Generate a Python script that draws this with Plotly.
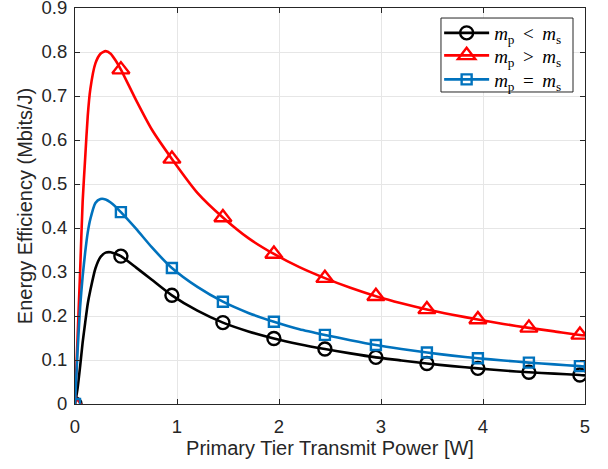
import plotly.graph_objects as go

# ---- data ----
x_line = [0, 0.025, 0.05, 0.075, 0.1, 0.125, 0.15, 0.2, 0.25, 0.3, 0.35, 0.4, 0.45,
          0.6, 0.75, 0.95, 1.2, 1.45, 1.7, 1.95, 2.2, 2.45, 2.7, 2.95, 3.2, 3.45,
          3.7, 3.95, 4.2, 4.45, 4.7, 4.95, 5.0]

ee_less = [0, 0.035, 0.085, 0.14, 0.185, 0.228, 0.258, 0.308, 0.334, 0.344, 0.345, 0.341, 0.336,
           0.31, 0.283, 0.247, 0.212, 0.185, 0.165, 0.149, 0.136, 0.125, 0.115, 0.106, 0.099, 0.092,
           0.086, 0.081, 0.076, 0.072, 0.069, 0.066, 0.065]

ee_greater = [0, 0.15, 0.3, 0.46, 0.56, 0.655, 0.715, 0.774, 0.796, 0.802, 0.796, 0.78, 0.76,
              0.69, 0.625, 0.557, 0.48, 0.424, 0.377, 0.341, 0.311, 0.286, 0.264, 0.245, 0.229, 0.215,
              0.203, 0.192, 0.182, 0.173, 0.165, 0.157, 0.156]

ee_equal = [0, 0.12, 0.22, 0.29, 0.345, 0.39, 0.42, 0.457, 0.466, 0.465, 0.458, 0.448, 0.436,
            0.398, 0.357, 0.309, 0.266, 0.2325, 0.207, 0.187, 0.17, 0.157, 0.145, 0.134, 0.125, 0.117,
            0.110, 0.104, 0.099, 0.094, 0.090, 0.086, 0.085]

x_mark = [0, 0.45, 0.95, 1.45, 1.95, 2.45, 2.95, 3.45, 3.95, 4.45, 4.95]
mk_less = [0, 0.336, 0.247, 0.185, 0.149, 0.125, 0.106, 0.092, 0.081, 0.072, 0.066]
mk_greater = [0, 0.76, 0.557, 0.424, 0.341, 0.286, 0.245, 0.215, 0.192, 0.173, 0.157]
mk_equal = [0, 0.436, 0.309, 0.2325, 0.187, 0.157, 0.134, 0.117, 0.104, 0.094, 0.086]

names = ["<i>m</i><sub>p</sub>&#8201; &lt; &#8201;<i>m</i><sub>s</sub>",
         "<i>m</i><sub>p</sub>&#8201; &gt; &#8201;<i>m</i><sub>s</sub>",
         "<i>m</i><sub>p</sub>&#8201; = &#8201;<i>m</i><sub>s</sub>"]
colors = ["#000000", "#ff0000", "#0072bd"]
symbols = ["circle-open", "triangle-up-open", "square-open"]
sizes = [13, 15, 10]
legend_ids = ["legend", "legend2", "legend3"]

fig = go.Figure()
for yl, ym, nm, c, s, sz, lg in zip([ee_less, ee_greater, ee_equal],
                                    [mk_less, mk_greater, mk_equal],
                                    names, colors, symbols, sizes, legend_ids):
    fig.add_trace(go.Scatter(x=x_line, y=yl, mode="lines", showlegend=False,
                             line=dict(color=c, width=2.6, shape="spline", smoothing=0.6),
                             hoverinfo="skip"))
    fig.add_trace(go.Scatter(x=x_mark, y=ym, mode="markers", showlegend=False,
                             marker=dict(symbol=s, size=sz, color=c, line=dict(color=c, width=2.4))))
    fig.add_trace(go.Scatter(x=[None], y=[None], mode="lines+markers", name=nm, legend=lg,
                             line=dict(color=c, width=2.6),
                             marker=dict(symbol=s, size=sz, color=c, line=dict(color=c, width=2.4))))

axis_common = dict(showline=True, mirror="allticks", linecolor="#262626", linewidth=1,
                   ticks="inside", ticklen=5, tickcolor="#262626",
                   showgrid=True, gridcolor="#e6e6e6", gridwidth=1, zeroline=False,
                   automargin=False, ticklabeloverflow="allow",
                   tickfont=dict(family="Liberation Sans, Arial", size=18.5, color="#262626"),
                   title_font=dict(family="Liberation Sans, Arial", size=20, color="#262626"))

fig.update_xaxes(range=[0, 5], dtick=1, tick0=0,
                 title_text="Primary Tier Transmit Power [W]", title_standoff=3,
                 ticklabelstandoff=6, **axis_common)
fig.update_yaxes(range=[0, 0.9], dtick=0.1, tick0=0,
                 title_text="Energy Efficiency (Mbits/J)", title_standoff=3,
                 ticklabelstandoff=3, **axis_common)

# legend frame (opaque box, like the reference)
fig.add_shape(type="rect", xref="paper", yref="paper", layer="above",
              x0=0.7176, x1=0.9765, y0=0.7879, y1=0.9747,
              line=dict(color="#262626", width=1), fillcolor="white")

leg_font = dict(family="Liberation Serif, DejaVu Serif", size=19, color="#000000")
row_y = [0.9369, 0.8801, 0.8194]
leg_layout = {}
for lg, ry in zip(legend_ids, row_y):
    leg_layout[lg] = dict(x=0.714, y=ry, xanchor="left", yanchor="middle",
                          bgcolor="rgba(0,0,0,0)", borderwidth=0,
                          font=leg_font, itemwidth=45)

fig.update_layout(
    width=608, height=469,
    margin=dict(l=75, r=23, t=8, b=65),
    paper_bgcolor="white", plot_bgcolor="white",
    showlegend=True,
    **leg_layout,
)

fig.write_html("out.html", config={"displayModeBar": False},
               post_script="document.body.style.margin='0';document.body.style.overflow='hidden';")
